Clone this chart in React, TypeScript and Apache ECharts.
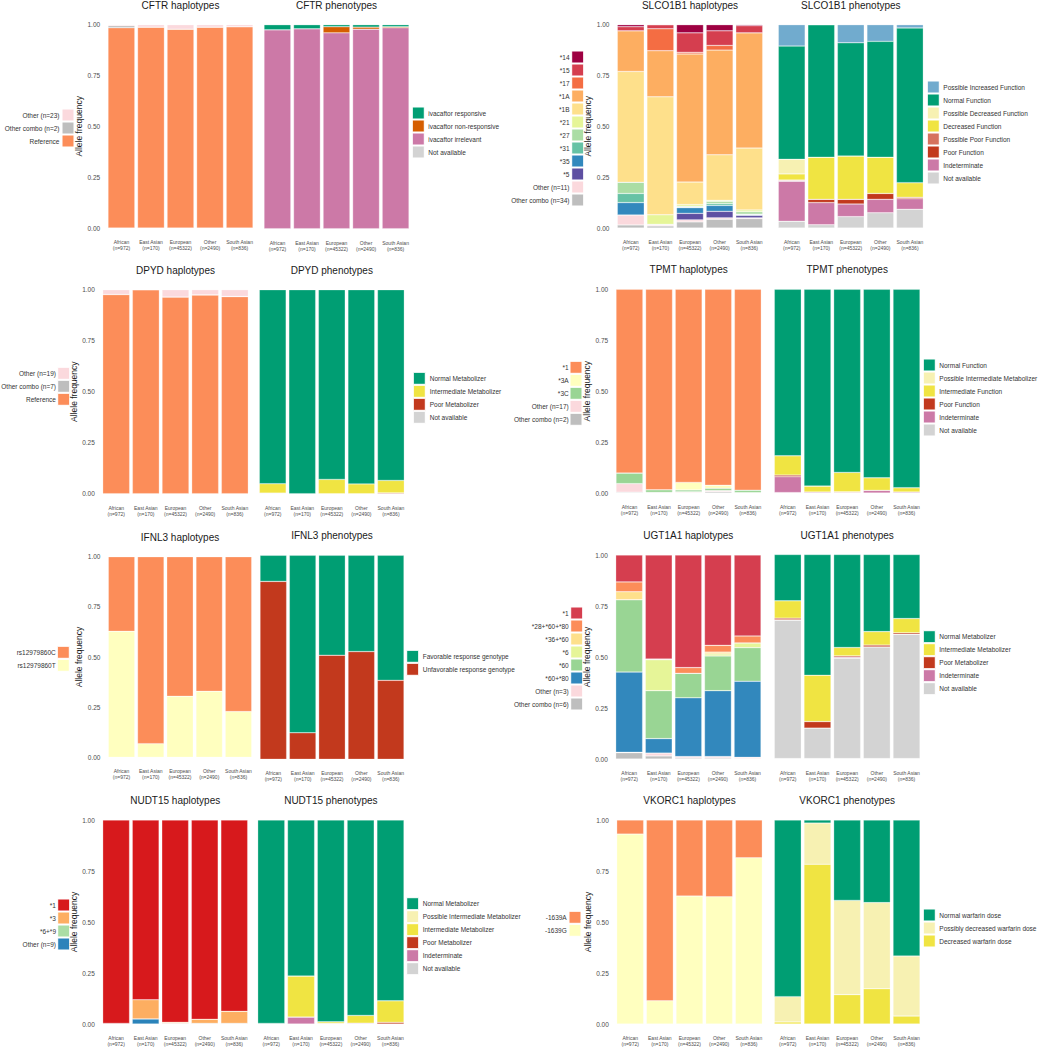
import React, { useEffect, useRef } from "react";
import * as echarts from "echarts";

// ---------- DATA ----------
const populations = [
  "African\n(n=972)",
  "East Asian\n(n=170)",
  "European\n(n=45322)",
  "Other\n(n=2490)",
  "South Asian\n(n=836)",
];

// All label/value arrays are ordered bottom -> top of the stack.
// CFTR
const cftrHapLabels = ["Reference", "Other combo (n=2)", "Other (n=23)"];
const cftrHapValues = [
  [0.985, 0.988, 0.978, 0.988, 0.99],
  [0.01, 0, 0, 0, 0],
  [0.005, 0.012, 0.022, 0.012, 0.01],
];
const cftrPhenLabels = ["Not available", "ivacaftor irrelevant", "ivacaftor non-responsive", "ivacaftor responsive"];
const cftrPhenValues = [
  [0, 0, 0, 0, 0],
  [0.975, 0.98, 0.96, 0.978, 0.985],
  [0, 0, 0.03, 0.01, 0.005],
  [0.025, 0.02, 0.01, 0.012, 0.01],
];

// SLCO1B1
const slcoHapLabels = ["Other combo (n=34)", "Other (n=11)", "*5", "*35", "*31", "*27", "*21", "*1B", "*1A", "*17", "*15", "*14"];
const slcoHapValues = [
  [0.015, 0.01, 0.03, 0.043, 0.046],
  [0.049, 0.005, 0.01, 0.007, 0.004],
  [0, 0.003, 0.032, 0.032, 0.012],
  [0.061, 0, 0.028, 0.029, 0.003],
  [0.045, 0, 0.003, 0.009, 0.003],
  [0.055, 0, 0.004, 0.011, 0.012],
  [0, 0.047, 0.008, 0.005, 0.009],
  [0.545, 0.58, 0.111, 0.224, 0.304],
  [0.2, 0.227, 0.63, 0.515, 0.567],
  [0, 0.108, 0.008, 0.023, 0],
  [0.02, 0.02, 0.096, 0.072, 0.035],
  [0.01, 0, 0.04, 0.03, 0.005],
];
const slcoPhenLabels = [
  "Not available", "Indeterminate", "Poor Function", "Possible Poor Function",
  "Decreased Function", "Possible Decreased Function", "Normal Function", "Possible Increased Function",
];
const slcoPhenValues = [
  [0.033, 0.016, 0.056, 0.075, 0.092],
  [0.197, 0.109, 0.062, 0.066, 0.052],
  [0.003, 0.016, 0.023, 0.029, 0.007],
  [0.003, 0, 0, 0, 0],
  [0.03, 0.207, 0.213, 0.178, 0.072],
  [0.072, 0, 0, 0, 0],
  [0.557, 0.652, 0.557, 0.57, 0.761],
  [0.105, 0, 0.089, 0.082, 0.016],
];

// DPYD
const dpydHapLabels = ["Reference", "Other combo (n=7)", "Other (n=19)"];
const dpydHapValues = [
  [0.976, 1.0, 0.964, 0.974, 0.966],
  [0.001, 0, 0, 0.001, 0.001],
  [0.023, 0, 0.036, 0.025, 0.033],
];
const dpydPhenLabels = ["Not available", "Poor Metabolizer", "Intermediate Metabolizer", "Normal Metabolizer"];
const dpydPhenValues = [
  [0.003, 0, 0, 0, 0],
  [0, 0, 0, 0, 0.004],
  [0.046, 0, 0.07, 0.048, 0.061],
  [0.951, 1.0, 0.93, 0.952, 0.935],
];

// TPMT
const tpmtHapLabels = ["Other combo (n=2)", "Other (n=17)", "*3C", "*3A", "*1"];
const tpmtHapValues = [
  [0.004, 0.003, 0.002, 0.006, 0.002],
  [0.042, 0, 0.004, 0.006, 0],
  [0.052, 0.013, 0.009, 0.011, 0.012],
  [0, 0, 0.037, 0.015, 0],
  [0.902, 0.984, 0.948, 0.962, 0.986],
];
const tpmtPhenLabels = [
  "Not available", "Indeterminate", "Poor Function", "Intermediate Function",
  "Possible Intermediate Metabolizer", "Normal Function",
];
const tpmtPhenValues = [
  [0.002, 0, 0, 0, 0],
  [0.078, 0.005, 0.003, 0.013, 0.005],
  [0.008, 0, 0.003, 0, 0],
  [0.095, 0.029, 0.095, 0.062, 0.021],
  [0, 0, 0, 0, 0],
  [0.817, 0.966, 0.899, 0.925, 0.974],
];

// IFNL3
const ifnl3HapLabels = ["rs12979860T", "rs12979860C"];
const ifnl3HapValues = [
  [0.628, 0.068, 0.304, 0.329, 0.228],
  [0.372, 0.932, 0.696, 0.671, 0.772],
];
const ifnl3PhenLabels = ["Unfavorable response genotype", "Favorable response genotype"];
const ifnl3PhenValues = [
  [0.872, 0.13, 0.51, 0.528, 0.387],
  [0.128, 0.87, 0.49, 0.472, 0.613],
];

// UGT1A1
const ugtHapLabels = ["Other combo (n=6)", "Other (n=3)", "*60+*80", "*60", "*6", "*36+*60", "*28+*60+*80", "*1"];
const ugtHapValues = [
  [0.031, 0.015, 0.005, 0.005, 0.002],
  [0.002, 0.014, 0.007, 0.007, 0.006],
  [0.393, 0.071, 0.288, 0.323, 0.373],
  [0.355, 0.235, 0.12, 0.17, 0.165],
  [0, 0.152, 0, 0.01, 0.023],
  [0.039, 0, 0, 0.009, 0],
  [0.048, 0.003, 0.028, 0.033, 0.034],
  [0.132, 0.51, 0.552, 0.443, 0.397],
];
const ugtPhenLabels = ["Not available", "Indeterminate", "Poor Metabolizer", "Intermediate Metabolizer", "Normal Metabolizer"];
const ugtPhenValues = [
  [0.678, 0.149, 0.492, 0.547, 0.609],
  [0.002, 0, 0.005, 0, 0],
  [0.008, 0.032, 0.006, 0.009, 0.007],
  [0.085, 0.227, 0.041, 0.066, 0.07],
  [0.227, 0.592, 0.456, 0.378, 0.314],
];

// NUDT15
const nudtHapLabels = ["Other (n=9)", "*6+*9", "*3", "*1"];
const nudtHapValues = [
  [0.003, 0.025, 0.003, 0.003, 0.003],
  [0, 0, 0, 0, 0],
  [0, 0.094, 0.005, 0.02, 0.059],
  [0.997, 0.881, 0.992, 0.977, 0.938],
];
const nudtPhenLabels = [
  "Not available", "Indeterminate", "Poor Metabolizer", "Intermediate Metabolizer",
  "Possible Intermediate Metabolizer", "Normal Metabolizer",
];
const nudtPhenValues = [
  [0, 0, 0, 0, 0],
  [0.003, 0.034, 0.003, 0.004, 0],
  [0, 0, 0, 0, 0.008],
  [0, 0.201, 0.008, 0.038, 0.106],
  [0, 0, 0, 0, 0],
  [0.997, 0.765, 0.989, 0.958, 0.886],
];

// VKORC1
const vkorHapLabels = ["-1639G", "-1639A"];
const vkorHapValues = [
  [0.931, 0.114, 0.627, 0.624, 0.815],
  [0.069, 0.886, 0.373, 0.376, 0.185],
];
const vkorPhenLabels = ["Decreased warfarin dose", "Possibly decreased warfarin dose", "Normal warfarin dose"];
const vkorPhenValues = [
  [0.01, 0.783, 0.144, 0.173, 0.039],
  [0.124, 0.202, 0.462, 0.422, 0.294],
  [0.866, 0.015, 0.394, 0.405, 0.667],
];

// ---------- STYLES ----------
const OTHER_PINK = "#FBD9DD";
const COMBO_GRAY = "#BEBEBE";
const NA_GRAY = "#D3D3D3";
const GREEN = "#009E73";
const YELLOW = "#F0E442";
const PALE = "#F7F1B2";
const PINK = "#CC79A7";
const RED = "#C2391D";

const cftrHapColors = ["#FC8D59", COMBO_GRAY, OTHER_PINK];
const cftrPhenColors = [NA_GRAY, PINK, "#D55E00", GREEN];
const slcoHapColors = [COMBO_GRAY, OTHER_PINK, "#5E4FA2", "#3288BD", "#66C2A5", "#ABDDA4", "#E6F598", "#FEE08B", "#FDAE61", "#F46D43", "#D53E4F", "#9E0142"];
const slcoPhenColors = [NA_GRAY, PINK, RED, "#D6725E", YELLOW, PALE, GREEN, "#71ABCE"];
const dpydHapColors = ["#FC8D59", COMBO_GRAY, OTHER_PINK];
const dpydPhenColors = [NA_GRAY, RED, YELLOW, GREEN];
const tpmtHapColors = [COMBO_GRAY, OTHER_PINK, "#99D594", "#FFFFBF", "#FC8D59"];
const tpmtPhenColors = [NA_GRAY, PINK, RED, YELLOW, PALE, GREEN];
const ifnl3HapColors = ["#FFFFBF", "#FC8D59"];
const ifnl3PhenColors = [RED, GREEN];
const ugtHapColors = [COMBO_GRAY, OTHER_PINK, "#3288BD", "#99D594", "#E6F598", "#FEE08B", "#FC8D59", "#D53E4F"];
const ugtPhenColors = [NA_GRAY, PINK, RED, YELLOW, GREEN];
const nudtHapColors = ["#2B83BA", "#ABDDA4", "#FDAE61", "#D7191C"];
const nudtPhenColors = [NA_GRAY, PINK, RED, YELLOW, PALE, GREEN];
const vkorHapColors = ["#FFFFBF", "#FC8D59"];
const vkorPhenColors = [YELLOW, PALE, GREEN];

const FONT = "Liberation Sans, Arial, Helvetica, sans-serif";

type Panel = {
  title: string;
  labels: string[];
  values: number[][];
  colors: string[];
  x0: number;
  x1: number;
  y0: number;
  y1: number;
  hap: boolean;
  legX: number; // swatch left
  legY: number; // first item centre
  labX: number; // label anchor
};

function buildPanels(): Panel[] {
  const P: Panel[] = [];
  const add = (
    gene: string,
    hap: [string[], number[][], string[]],
    phen: [string[], number[][], string[]],
    g: {
      hx: [number, number]; px: [number, number]; hy: [number, number]; py: [number, number];
      hl: [number, number, number]; pl: [number, number, number];
    }
  ) => {
    P.push({
      title: gene + " haplotypes", labels: hap[0], values: hap[1], colors: hap[2],
      x0: g.hx[0], x1: g.hx[1], y0: g.hy[0], y1: g.hy[1], hap: true,
      legX: g.hl[0], legY: g.hl[1], labX: g.hl[2],
    });
    P.push({
      title: gene + " phenotypes", labels: phen[0], values: phen[1], colors: phen[2],
      x0: g.px[0], x1: g.px[1], y0: g.py[0], y1: g.py[1], hap: false,
      legX: g.pl[0], legY: g.pl[1], labX: g.pl[2],
    });
  };
  add("CFTR", [cftrHapLabels, cftrHapValues, cftrHapColors], [cftrPhenLabels, cftrPhenValues, cftrPhenColors], {
    hx: [108, 253], px: [264, 409], hy: [24.7, 228], py: [24.7, 228.7],
    hl: [62, 115, 59.5], pl: [412.3, 113, 428.3],
  });
  add("SLCO1B1", [slcoHapLabels, slcoHapValues, slcoHapColors], [slcoPhenLabels, slcoPhenValues, slcoPhenColors], {
    hx: [617.3, 762.7], px: [778.3, 923.3], hy: [24.7, 228], py: [24.7, 228],
    hl: [571.7, 57, 569.5], pl: [927.3, 87, 943.3],
  });
  add("DPYD", [dpydHapLabels, dpydHapValues, dpydHapColors], [dpydPhenLabels, dpydPhenValues, dpydPhenColors], {
    hx: [102.7, 248.3], px: [259.3, 404.3], hy: [289.7, 493.7], py: [289.7, 493.7],
    hl: [57.7, 373.3, 56], pl: [413.3, 378.3, 429.7],
  });
  add("TPMT", [tpmtHapLabels, tpmtHapValues, tpmtHapColors], [tpmtPhenLabels, tpmtPhenValues, tpmtPhenColors], {
    hx: [616, 761.3], px: [774.3, 920], hy: [289.3, 493], py: [289.3, 493],
    hl: [570, 367.3, 568.7], pl: [923.3, 365, 939.3],
  });
  add("IFNL3", [ifnl3HapLabels, ifnl3HapValues, ifnl3HapColors], [ifnl3PhenLabels, ifnl3PhenValues, ifnl3PhenColors], {
    hx: [108.3, 251.7], px: [260, 404], hy: [556.7, 757.3], py: [555.3, 759.3],
    hl: [57.3, 652.3, 55.7], pl: [406.7, 656.3, 422.7],
  });
  add("UGT1A1", [ugtHapLabels, ugtHapValues, ugtHapColors], [ugtPhenLabels, ugtPhenValues, ugtPhenColors], {
    hx: [615.7, 761], px: [774.3, 920], hy: [555, 759], py: [554.5, 758.5],
    hl: [570.7, 613, 568.7], pl: [923.3, 636.7, 939.3],
  });
  add("NUDT15", [nudtHapLabels, nudtHapValues, nudtHapColors], [nudtPhenLabels, nudtPhenValues, nudtPhenColors], {
    hx: [102.7, 247.7], px: [257.7, 404], hy: [820, 1024], py: [820, 1024],
    hl: [57.7, 905, 56], pl: [406.7, 903.7, 422.7],
  });
  add("VKORC1", [vkorHapLabels, vkorHapValues, vkorHapColors], [vkorPhenLabels, vkorPhenValues, vkorPhenColors], {
    hx: [616.7, 762.3], px: [774.3, 920], hy: [820, 1024], py: [820, 1024],
    hl: [569, 917.3, 566.7], pl: [923.3, 915, 939.3],
  });
  return P;
}

function buildOption() {
  const panels = buildPanels();
  const grid: any[] = [];
  const xAxis: any[] = [];
  const yAxis: any[] = [];
  const series: any[] = [];
  const graphic: any[] = [];
  const GAP = 2.7;
  const STEP = 13;
  const SW = 12;

  panels.forEach((p, i) => {
    const bw = (p.x1 - p.x0 - 4 * GAP) / 5;
    const slot = bw + GAP;
    grid.push({ left: p.x0 - GAP / 2, top: p.y0, width: slot * 5, height: p.y1 - p.y0, containLabel: false });
    xAxis.push({
      type: "category",
      gridIndex: i,
      data: populations,
      axisLine: { show: false },
      axisTick: { show: false },
      splitLine: { show: false },
      axisLabel: { interval: 0, fontSize: 5, lineHeight: 6, color: "#4D4D4D", margin: 11, fontFamily: FONT },
    });
    yAxis.push({
      type: "value",
      gridIndex: i,
      min: 0,
      max: 1,
      interval: 0.25,
      splitLine: { show: false },
      axisLine: { show: false },
      axisTick: { show: false },
      axisLabel: {
        show: p.hap,
        fontSize: 6.5,
        color: "#4D4D4D",
        margin: 6.5,
        fontFamily: FONT,
        formatter: (v: number) => v.toFixed(2),
      },
      name: p.hap ? "Allele frequency" : "",
      nameLocation: "middle",
      nameGap: 21,
      nameTextStyle: { fontSize: 8.5, color: "#1A1A1A", fontFamily: FONT, fontWeight: "normal" },
    });
    p.labels.forEach((lab, k) => {
      series.push({
        type: "bar",
        name: p.title + "|" + lab,
        xAxisIndex: i,
        yAxisIndex: i,
        stack: "s" + i,
        barWidth: bw,
        data: p.values[k],
        itemStyle: { color: p.colors[k], borderColor: "rgba(255,255,255,0.55)", borderWidth: 0.5 },
        emphasis: { disabled: true },
      });
    });
    // title
    graphic.push({
      type: "text",
      x: (p.x0 + p.x1) / 2,
      y: p.y0 - 19.5,
      style: {
        text: p.title,
        fontSize: 10,
        fontWeight: "normal",
        fontFamily: FONT,
        fill: "#1A1A1A",
        textAlign: "center",
        textVerticalAlign: "middle",
      },
    });
    // legend (top -> bottom is reverse of stacking order)
    const n = p.labels.length;
    for (let j = 0; j < n; j++) {
      const k = n - 1 - j;
      const cy = p.legY + j * STEP;
      graphic.push({
        type: "rect",
        shape: { x: p.legX, y: cy - SW / 2, width: SW, height: SW },
        style: { fill: p.colors[k], stroke: "#FFFFFF", lineWidth: 1 },
      });
      graphic.push({
        type: "text",
        x: p.labX,
        y: cy,
        style: {
          text: p.labels[k],
          fontSize: 6.5,
          fontWeight: "normal",
          fontFamily: FONT,
          fill: "#333333",
          textAlign: p.hap ? "right" : "left",
          textVerticalAlign: "middle",
        },
      });
    }
  });

  return {
    animation: false,
    backgroundColor: "#FFFFFF",
    grid,
    xAxis,
    yAxis,
    series,
    graphic,
  };
}

export default function App() {
  const ref = useRef<HTMLDivElement | null>(null);
  useEffect(() => {
    document.body.style.margin = "0";
    if (!ref.current) return;
    const chart = echarts.init(ref.current, undefined, { renderer: "svg" });
    chart.setOption(buildOption() as any);
    return () => chart.dispose();
  }, []);
  return <div ref={ref} style={{ width: 1040, height: 1050 }} />;
}
